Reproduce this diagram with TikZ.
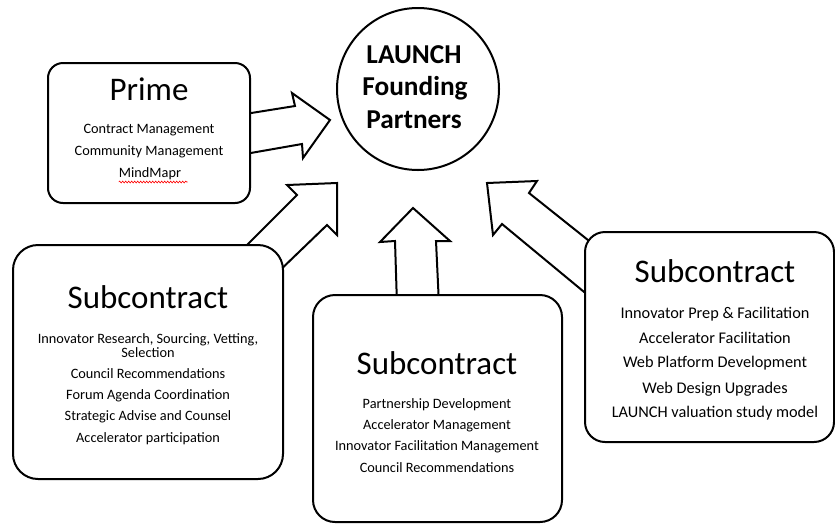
\documentclass[tikz,border=0pt]{standalone}
\usepackage{fontspec}
\setmainfont{Carlito}
\usetikzlibrary{decorations.pathmorphing}

\tikzset{
  box/.style={draw, line width=2pt, fill=white},
  blockarrow/.style={draw, line width=2pt, fill=white, line join=miter},
  boxtitle/.style={anchor=base, inner sep=0pt, font=\fontsize{33}{33}\selectfont},
  item/.style={anchor=base, inner sep=0pt, font=\fontsize{14.3}{17}\selectfont},
  bigitem/.style={anchor=base, inner sep=0pt, font=\fontsize{16.3}{19}\selectfont},
  hub/.style={anchor=base, inner sep=0pt, font=\bfseries\fontsize{27.3}{27}\selectfont},
}

\begin{document}
\begin{tikzpicture}[x=1pt, y=-1pt]
\useasboundingbox (0,0) rectangle (835,523);

% block arrows pointing at the partners circle
\draw[blockarrow] (245,114) -- (295,106) -- (292,93) -- (330,120) -- (303,158) -- (302,144) -- (245,154) -- cycle;
\draw[blockarrow] (237,255) -- (297,195) -- (287,185) -- (337,183) -- (337,235) -- (327,225) -- (273,277) -- cycle;
\draw[blockarrow] (397,305) -- (395,241) -- (380,242) -- (413,208) -- (450,241) -- (436,241) -- (439,305) -- cycle;
\draw[blockarrow] (598,248) -- (529,193) -- (537,181) -- (487,183) -- (493,235) -- (502,224) -- (595,301) -- cycle;

% central circle
\node[draw, line width=2pt, circle, minimum size=162pt, inner sep=0pt] (hub) at (418,89) {};
\node[hub] (hubA) at (414,63) {LAUNCH};
\node[hub] (hubB) at (415,95) {Founding};
\node[hub] (hubC) at (414,128) {Partners};

% Prime
\draw[box, rounded corners=15pt] (48,63) rectangle (250,203);
\node[boxtitle] (primeT) at (149,100) {Prime};
\node[item] (prime1) at (149,133) {Contract Management};
\node[item] (prime2) at (149,155) {Community Management};
\node[item] (prime3) at (150,177) {MindMapr};
\draw[red, line width=0.6pt, decorate, decoration={snake, amplitude=0.9pt, segment length=3pt}] (prime3.south west) ++(0,2.5) -- ++(69,0);

% left subcontract
\draw[box, rounded corners=25pt] (13,245) rectangle (283,479);
\node[boxtitle] (leftT) at (148,308) {Subcontract};
\node[item] (left1) at (148,343) {Innovator Research, Sourcing, Vetting,};
\node[item] (left2) at (148,357) {Selection};
\node[item] (left3) at (148,378) {Council Recommendations};
\node[item] (left4) at (148,399) {Forum Agenda Coordination};
\node[item] (left5) at (148,420) {Strategic Advise and Counsel};
\node[item] (left6) at (148,442) {Accelerator participation};

% middle subcontract
\draw[box, rounded corners=22pt] (313,295) rectangle (562,522);
\node[boxtitle] (midT) at (437,374) {Subcontract};
\node[item] (mid1) at (437,408) {Partnership Development};
\node[item] (mid2) at (437,429) {Accelerator Management};
\node[item] (mid3) at (437,450) {Innovator Facilitation Management};
\node[item] (mid4) at (437,472) {Council Recommendations};

% right subcontract
\draw[box, rounded corners=20pt] (585,232) rectangle (834,442);
\node[boxtitle] (rightT) at (715,282) {Subcontract};
\node[bigitem] (right1) at (715,318) {Innovator Prep \& Facilitation};
\node[bigitem] (right2) at (715,343) {Accelerator Facilitation};
\node[bigitem] (right3) at (715,367) {Web Platform Development};
\node[bigitem] (right4) at (715,393) {Web Design Upgrades};
\node[bigitem] (right5) at (715,417) {LAUNCH valuation study model};
\end{tikzpicture}
\end{document}
